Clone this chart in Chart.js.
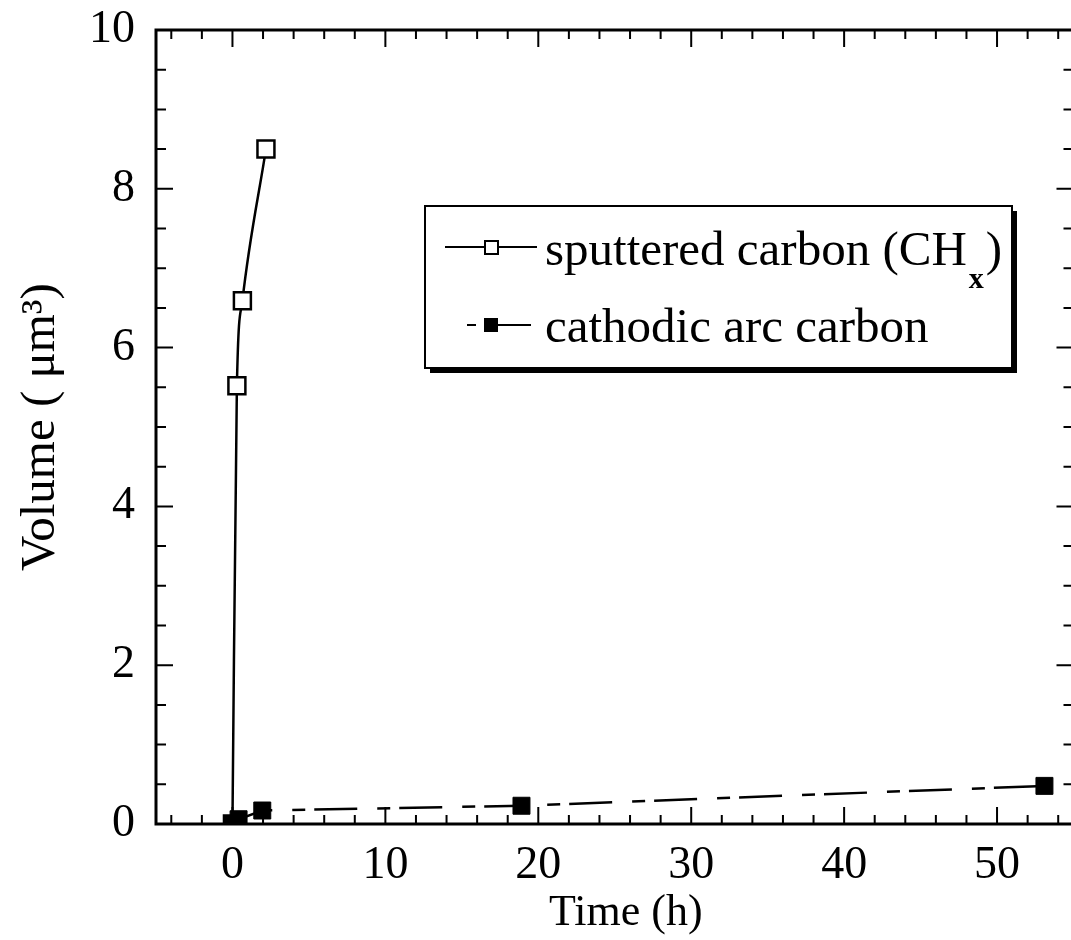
<!DOCTYPE html>
<html lang="en">
<head>
    <meta charset="UTF-8">
    <title>Volume vs time</title>
    <script src="https://cdn.jsdelivr.net/npm/chart.js"></script>
    <style>
        html, body { margin: 0; padding: 0; background: #fff; overflow: hidden; }
        #wrap { position: relative; width: 1088px; height: 940px; }
    </style>
</head>
<body>
    <div id="wrap"><canvas id="chart"></canvas></div>

    <script>
        // values
        var sputTime = [0, 0.29, 0.65, 2.19];
        var sputVol  = [0, 5.52, 6.59, 8.50];
        var arcTime  = [0, 0.4, 1.95, 18.9, 53.1];
        var arcVol   = [0, 0.06, 0.17, 0.23, 0.48];

        var xTicks = [0, 10, 20, 30, 40, 50];
        var yTicks = [0, 2, 4, 6, 8, 10];

        var seriesNames = ['sputtered carbon (CH', 'cathodic arc carbon'];

        var FONT = '"Liberation Serif", "Times New Roman", serif';

        function pts(xs, ys) {
            return xs.map(function (x, i) { return { x: x, y: ys[i] }; });
        }

        // box frame with inward ticks on all four sides
        var frameTicks = {
            id: 'frameTicks',
            afterDatasetsDraw: function (chart) {
                var ctx = chart.ctx, a = chart.chartArea;
                var xs = chart.scales.x, ys = chart.scales.y;
                ctx.save();
                ctx.strokeStyle = '#000';
                ctx.lineWidth = 2;
                ctx.beginPath();
                for (var v = -4; v <= 54; v += 2) {
                    var px = xs.getPixelForValue(v);
                    var len = v % 10 === 0 ? 17 : 9;
                    ctx.moveTo(px, a.bottom); ctx.lineTo(px, a.bottom - len);
                    ctx.moveTo(px, a.top); ctx.lineTo(px, a.top + len);
                }
                for (var w = 0.5; w < 10; w += 0.5) {
                    var py = ys.getPixelForValue(w);
                    var len2 = w % 2 === 0 ? 17 : 10;
                    ctx.moveTo(a.left, py); ctx.lineTo(a.left + len2, py);
                    ctx.moveTo(a.right, py); ctx.lineTo(a.right - len2, py);
                }
                ctx.stroke();
                ctx.lineWidth = 3;
                ctx.strokeRect(a.left, a.top, a.right - a.left, a.bottom - a.top);
                ctx.restore();
            }
        };

        // legend box with drop shadow
        var legendBox = {
            id: 'legendBox',
            afterDraw: function (chart) {
                var ctx = chart.ctx;
                var bx = 425, by = 206, bw = 587, bh = 162;
                ctx.save();
                ctx.fillStyle = '#000';
                ctx.fillRect(bx + 5, by + 5, bw, bh);
                ctx.fillStyle = '#fff';
                ctx.fillRect(bx, by, bw, bh);
                ctx.strokeStyle = '#000';
                ctx.lineWidth = 2;
                ctx.strokeRect(bx, by, bw, bh);

                // row 1: solid line, open square
                ctx.lineWidth = 2;
                ctx.beginPath();
                ctx.moveTo(445, 247); ctx.lineTo(537, 247);
                ctx.stroke();
                ctx.fillStyle = '#fff';
                ctx.fillRect(485, 241, 13, 13);
                ctx.strokeRect(485, 241, 13, 13);

                // row 2: dashed line, filled square
                ctx.beginPath();
                ctx.moveTo(467, 325); ctx.lineTo(476, 325);
                ctx.moveTo(497, 325); ctx.lineTo(531, 325);
                ctx.stroke();
                ctx.fillStyle = '#000';
                ctx.fillRect(484, 318, 14, 14);

                ctx.fillStyle = '#000';
                ctx.textBaseline = 'alphabetic';
                ctx.font = '49px ' + FONT;
                ctx.fillText(seriesNames[0], 545, 265);
                var wid = ctx.measureText(seriesNames[0]).width;
                ctx.font = 'bold 30px ' + FONT;
                ctx.fillText('x', 545 + wid + 2, 288);
                var wx = ctx.measureText('x').width;
                ctx.font = '49px ' + FONT;
                ctx.fillText(')', 545 + wid + wx + 4, 265);
                ctx.fillText(seriesNames[1], 545, 342);
                ctx.restore();
            }
        };

        var ctx = document.getElementById('chart').getContext('2d');
        var chart = new Chart(ctx, {
            type: 'scatter',
            data: {
                datasets: [{
                    label: seriesNames[1],
                    data: pts(arcTime, arcVol),
                    showLine: true,
                    borderColor: '#000',
                    borderWidth: 2.5,
                    borderDash: [43, 20, 13, 9],
                    tension: 0,
                    pointStyle: 'rect',
                    pointRadius: 12,
                    pointBackgroundColor: '#000',
                    pointBorderColor: '#000',
                    pointBorderWidth: 1
                }, {
                    label: 'sputtered carbon (CHx)',
                    data: pts(sputTime, sputVol),
                    showLine: true,
                    borderColor: '#000',
                    borderWidth: 2.5,
                    cubicInterpolationMode: 'monotone',
                    pointStyle: 'rect',
                    pointRadius: 12,
                    pointBackgroundColor: '#fff',
                    pointBorderColor: '#000',
                    pointBorderWidth: 2.5
                }]
            },
            options: {
                animation: false,
                responsive: true,
                maintainAspectRatio: false,
                layout: { padding: { top: 30, right: 4, left: 0, bottom: 0 } },
                plugins: {
                    legend: { display: false },
                    tooltip: { enabled: false }
                },
                scales: {
                    x: {
                        type: 'linear',
                        min: -5,
                        max: 55,
                        afterBuildTicks: function (s) { s.ticks = xTicks.map(function (v) { return { value: v }; }); },
                        afterFit: function (s) { s.height = 116; s.paddingLeft = 0; s.paddingRight = 0; },
                        grid: { display: false, drawTicks: false },
                        border: { display: false },
                        ticks: { font: { family: FONT, size: 46 }, color: '#000', padding: 14, maxRotation: 0 },
                        title: { display: true, text: '\u2002Time (h)', font: { family: FONT, size: 44 }, color: '#000', padding: 0 }
                    },
                    y: {
                        min: 0,
                        max: 10,
                        afterBuildTicks: function (s) { s.ticks = yTicks.map(function (v) { return { value: v }; }); },
                        afterFit: function (s) { s.width = 156; s.paddingTop = 0; s.paddingBottom = 0; },
                        grid: { display: false, drawTicks: false },
                        border: { display: false },
                        ticks: { font: { family: FONT, size: 46 }, color: '#000', padding: 21 },
                        title: { display: true, text: 'Volume ( μm³)', font: { family: FONT, size: 49 }, color: '#000', padding: { top: 12, bottom: 0 } }
                    }
                }
            },
            plugins: [frameTicks, legendBox]
        });
    </script>
</body>
</html>
